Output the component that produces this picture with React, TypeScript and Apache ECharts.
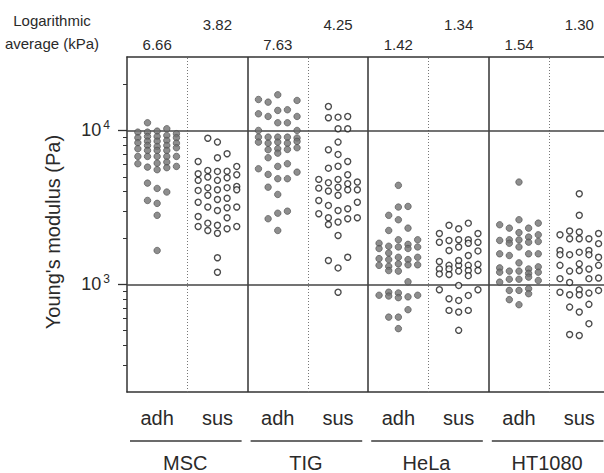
import React, { useEffect, useRef } from 'react';
import * as echarts from 'echarts';

// ---------- data ----------
const columnLabels = ['adh', 'sus', 'adh', 'sus', 'adh', 'sus', 'adh', 'sus'];
const groupLabels = ['MSC', 'TIG', 'HeLa', 'HT1080'];
const logAverages = [6.66, 3.82, 7.63, 4.25, 1.42, 1.34, 1.54, 1.3];
const yMajorTicks = [1000, 10000];
const yMinorTicks = [300, 400, 500, 600, 700, 800, 900, 2000, 3000, 4000, 5000, 6000, 7000, 8000, 9000, 20000];
const Y_MIN = 200;
const Y_MAX = 30000;

// each point: [lane offset inside the column (-2..2), Young's modulus in Pa]
const mscAdh = [
  [-2, 9750], [-2, 8970], [-2, 8320], [-2, 7610], [-2, 6780], [-2, 6080],
  [-1, 11220], [-1, 9750], [-1, 9140], [-1, 8520], [-1, 7990], [-1, 7420], [-1, 6780], [-1, 5780], [-1, 4550], [-1, 3510],
  [0, 9900], [0, 9140], [0, 8520], [0, 7870], [0, 7420], [0, 6780], [0, 6130], [0, 5560], [0, 4200], [0, 3360], [0, 2810], [0, 1660],
  [1, 10260], [1, 9280], [1, 8610], [1, 7990], [1, 7420], [1, 6780], [1, 6230], [1, 5730], [1, 3980],
  [2, 9520], [2, 8970], [2, 8270], [2, 7720], [2, 6780], [2, 5840],
];
const mscSus = [
  [-1, 8900], [0, 8400], [1, 7060], [0, 6650], [-2, 6290], [2, 5840], [-2, 5230], [-1, 5500], [0, 5420], [1, 5440],
  [-2, 4740], [-1, 4980], [0, 4740], [1, 4930], [2, 5160], [-2, 4080], [-1, 4250], [0, 4120], [1, 4250], [2, 4330],
  [2, 4120], [-1, 3790], [0, 3560], [1, 3630], [-2, 3420], [-1, 3180], [0, 3020], [1, 3150], [2, 3180], [-2, 2760],
  [1, 2710], [-2, 2380], [-1, 2500], [-1, 2240], [0, 2420], [0, 2150], [1, 2300], [2, 2380], [0, 1490], [0, 1200],
];
const tigAdh = [
  [0, 17050], [-2, 15890], [-1, 15270], [2, 15660], [1, 13630], [0, 13490], [-2, 12830], [-1, 12330], [2, 12330],
  [0, 11220], [1, 11220], [-2, 10000], [2, 10000],
  [-2, 9050], [-1, 9050], [0, 9050], [1, 9050], [2, 8940],
  [-2, 8400], [-1, 8270], [0, 8400], [1, 8270], [2, 8490],
  [-1, 7500], [0, 7610], [1, 7530], [2, 7720],
  [0, 7120], [-1, 6650], [-2, 5640], [0, 5840], [1, 6080], [2, 5360],
  [-1, 5180], [0, 4860], [1, 4860], [-1, 4280], [0, 3840], [-1, 2670], [0, 2900], [1, 2990], [0, 2240],
];
const tigSus = [
  [-1, 14320], [-1, 12090], [0, 12200], [1, 12330], [0, 10260], [1, 10260], [0, 8400], [-1, 7500], [0, 6990], [1, 6290],
  [-1, 5690], [0, 5860], [1, 5160], [-2, 4810], [-1, 4580], [0, 4810], [1, 4510], [2, 4620], [-2, 4220], [-1, 4040],
  [0, 4280], [1, 4120], [2, 4120], [0, 3790], [-2, 3510], [-1, 3260], [2, 3420], [-2, 2880], [-1, 2710], [-1, 2450],
  [0, 3020], [0, 2540], [1, 3100], [1, 2670], [2, 2710], [0, 2080], [-1, 1430], [0, 1280], [1, 1500], [0, 890],
];
const helaAdh = [
  [0, 4400], [-1, 2810], [1, 3210], [0, 3180], [0, 2630], [-1, 2240], [1, 2320],
  [-2, 1850], [-1, 1770], [0, 1950], [1, 1820], [2, 1950],
  [-2, 1710], [-1, 1600], [0, 1750], [1, 1710], [2, 1750],
  [-2, 1470], [-1, 1450], [0, 1500], [1, 1450], [2, 1500],
  [-2, 1330], [-1, 1310], [0, 1360], [1, 1340], [2, 1340],
  [-1, 1230], [0, 1220], [1, 1040],
  [-2, 850], [-1, 890], [-1, 840], [0, 880], [0, 820], [1, 830], [2, 850],
  [1, 685], [-1, 613], [0, 613], [0, 516],
];
const helaSus = [
  [-1, 2420], [0, 2300], [1, 2500], [-2, 2140], [-1, 1930], [0, 1950], [1, 1950], [1, 1850], [2, 2140], [-2, 1880],
  [-1, 1660], [0, 1750], [2, 1880], [1, 1540], [2, 1650], [-2, 1410], [-1, 1330], [0, 1330], [1, 1330], [-2, 1260],
  [-2, 1170], [-1, 1260], [0, 1220], [1, 1230], [2, 1350], [2, 1230], [-1, 1160], [0, 1430], [1, 1140], [0, 985],
  [-2, 924], [2, 924], [-1, 807], [0, 787], [1, 848], [-1, 678], [0, 661], [1, 678], [0, 503],
];
const htAdh = [
  [0, 4620], [0, 2630], [-2, 2440], [-1, 2320], [1, 2320], [2, 2500], [0, 2170],
  [-2, 1930], [-1, 1950], [-1, 1850], [0, 1945], [1, 2030], [1, 1880], [2, 2100], [2, 1900],
  [0, 1750], [-2, 1580], [-1, 1540], [1, 1580], [2, 1580], [0, 1380],
  [-2, 1280], [-2, 1200], [-1, 1220], [0, 1220], [1, 1260], [1, 1180], [2, 1300], [2, 1200],
  [-2, 1035], [-1, 1080], [0, 1080], [1, 1115], [2, 1060],
  [-1, 914], [0, 914], [1, 938], [1, 870], [-1, 796], [0, 738],
];
const htSus = [
  [0, 3880], [0, 2810], [-2, 2100], [-1, 2220], [-1, 1980], [0, 2190], [0, 1980], [1, 1980], [2, 2140], [2, 1840],
  [-2, 1660], [-2, 1560], [-1, 1560], [0, 1620], [1, 1660], [1, 1560], [2, 1500], [-2, 1330], [-1, 1220], [0, 1360],
  [0, 1230], [1, 1260], [2, 1330], [-2, 1090], [-1, 1030], [1, 1090], [2, 1100], [-2, 890], [-1, 857], [0, 924],
  [0, 857], [1, 878], [2, 914], [-1, 712], [0, 661], [1, 742], [1, 556], [-1, 473], [0, 466],
];

const columns = [mscAdh, mscSus, tigAdh, tigSus, helaAdh, helaSus, htAdh, htSus];

// ---------- layout / style ----------
const LANE = 0.16;
const X_MAX = 7.91;
const FONT = '"Liberation Sans", Arial, Helvetica, sans-serif';
const INK = '#2a2a2a';
const LINE = '#333';

const adhStyle = { color: '#727272', borderColor: '#4a4a4a', borderWidth: 0.8 };
const susStyle = { color: '#ffffff', borderColor: '#1e1e1e', borderWidth: 1.4 };

function toPoints(col: number, arr: number[][]) {
  return arr.map(([lane, v]) => [col + 0.5 + lane * LANE, Math.log10(v)]);
}

export default function App() {
  const ref = useRef<HTMLDivElement>(null);

  useEffect(() => {
    const chart = echarts.init(ref.current!, undefined, { renderer: 'svg' });

    const solid = { type: 'solid', color: LINE, width: 1.5 };
    const dotted = { type: [1, 2], color: '#777', width: 1 };
    const markData: any[] = [];
    for (let k = 1; k < 8; k++) {
      markData.push({ xAxis: k, lineStyle: k % 2 === 0 ? solid : dotted });
    }
    yMajorTicks.forEach((v) => markData.push({ yAxis: Math.log10(v), lineStyle: { type: 'solid', color: '#444', width: 1.5 } }));

    const series: any[] = columns.map((arr, i) => ({
      type: 'scatter',
      data: toPoints(i, arr),
      symbol: 'circle',
      symbolSize: i % 2 === 0 ? 6.5 : 6,
      itemStyle: i % 2 === 0 ? adhStyle : susStyle,
      silent: true,
      z: 3,
      ...(i === 0
        ? {
            markLine: {
              silent: true,
              symbol: ['none', 'none'],
              label: { show: false },
              animation: false,
              z: 1,
              data: markData,
            },
          }
        : {}),
    }));

    const option: any = {
      animation: false,
      backgroundColor: '#fff',
      grid: { left: 127, right: 0, top: 57, bottom: 81, outerBoundsMode: 'none', containLabel: false },
      xAxis: [
        {
          type: 'value',
          min: 0,
          max: X_MAX,
          position: 'bottom',
          axisLine: { show: true, onZero: false, lineStyle: { color: LINE, width: 1.5 } },
          axisTick: { show: false },
          splitLine: { show: false },
          axisLabel: {
            show: true,
            customValues: columnLabels.map((_, i) => i + 0.5),
            formatter: (v: number) => columnLabels[Math.floor(v)] ?? '',
            fontFamily: FONT,
            fontSize: 20,
            color: INK,
            margin: 16,
          },
        },
        {
          type: 'value',
          min: 0,
          max: X_MAX,
          position: 'top',
          axisLine: { show: true, onZero: false, lineStyle: { color: LINE, width: 1.5 } },
          axisTick: { show: false },
          splitLine: { show: false },
          axisLabel: { show: false },
        },
      ],
      yAxis: [
        {
          type: 'value',
          min: Math.log10(Y_MIN),
          max: Math.log10(Y_MAX),
          position: 'left',
          axisLine: { show: true, onZero: false, lineStyle: { color: LINE, width: 1.5 } },
          axisTick: {
            show: true,
            inside: false,
            length: 9,
            customValues: yMajorTicks.map((v) => Math.log10(v)),
            lineStyle: { color: LINE, width: 1.3 },
          },
          splitLine: { show: false },
          axisLabel: {
            show: true,
            customValues: yMajorTicks.map((v) => Math.log10(v)),
            formatter: (v: number) => '10{sup|' + Math.round(v) + '}',
            fontFamily: FONT,
            fontSize: 18,
            color: INK,
            margin: 17,
            rich: {
              sup: { fontFamily: FONT, fontSize: 12, color: INK, padding: [0, 0, 10, 2] },
            },
          },
        },
        {
          type: 'value',
          min: Math.log10(Y_MIN),
          max: Math.log10(Y_MAX),
          position: 'left',
          axisLine: { show: false },
          axisTick: {
            show: true,
            inside: false,
            length: 4,
            customValues: yMinorTicks.map((v) => Math.log10(v)),
            lineStyle: { color: LINE, width: 1 },
          },
          splitLine: { show: false },
          axisLabel: { show: false },
        },
      ],
      series,
    };

    chart.setOption(option);

    const px = (x: number, y: number) => chart.convertToPixel({ gridIndex: 0 }, [x, y]) as number[];
    const yRef = Math.log10(1000);
    const graphic: any[] = [];

    graphic.push({
      type: 'text',
      x: 53,
      y: 232,
      rotation: Math.PI / 2,
      style: { text: "Young's modulus (Pa)", fontFamily: FONT, fontSize: 20, fill: INK, align: 'center', verticalAlign: 'middle' },
    });
    graphic.push({
      type: 'text',
      x: 52,
      y: 20,
      style: { text: 'Logarithmic', fontFamily: FONT, fontSize: 15, fill: INK, align: 'center', verticalAlign: 'middle' },
    });
    graphic.push({
      type: 'text',
      x: 52,
      y: 43,
      style: { text: 'average (kPa)', fontFamily: FONT, fontSize: 15, fill: INK, align: 'center', verticalAlign: 'middle' },
    });
    logAverages.forEach((v, i) => {
      const [x] = px(i + 0.5, yRef);
      graphic.push({
        type: 'text',
        x,
        y: i % 2 === 0 ? 44 : 24,
        style: { text: v.toFixed(2), fontFamily: FONT, fontSize: 15, fill: INK, align: 'center', verticalAlign: 'middle' },
      });
    });
    groupLabels.forEach((g, gi) => {
      const [x0] = px(gi * 2, yRef);
      const [x1] = px(gi * 2 + 2, yRef);
      graphic.push({
        type: 'line',
        shape: { x1: x0 + 3, y1: 441, x2: x1 - 6, y2: 441 },
        style: { stroke: '#3a3a3a', lineWidth: 1.5 },
      });
      graphic.push({
        type: 'text',
        x: (x0 + x1) / 2 - 2,
        y: 463,
        style: { text: g, fontFamily: FONT, fontSize: 20, fill: INK, align: 'center', verticalAlign: 'middle' },
      });
    });

    chart.setOption({ graphic });

    return () => chart.dispose();
  }, []);

  return <div ref={ref} style={{ position: 'fixed', left: 0, top: 0, width: 604, height: 473 }} />;
}
